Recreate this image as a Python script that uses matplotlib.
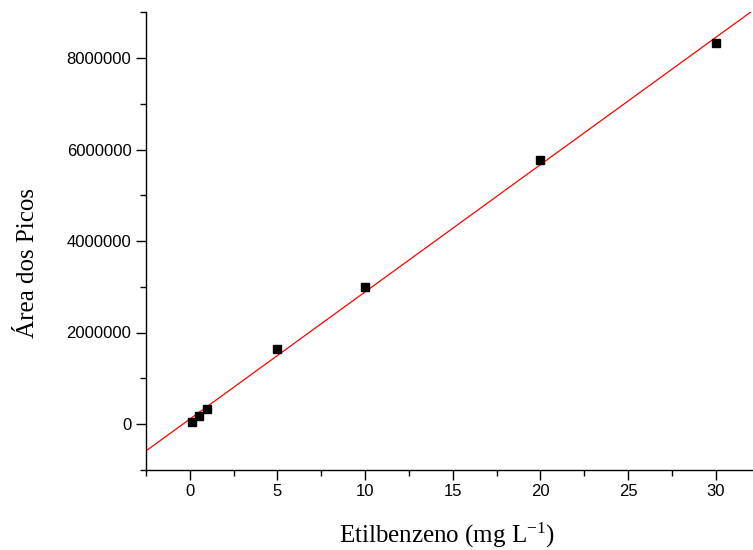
import numpy as np
import matplotlib
matplotlib.use("Agg")
import matplotlib.pyplot as plt
from matplotlib.ticker import MultipleLocator

plt.rcParams['mathtext.fontset'] = 'custom'
plt.rcParams['mathtext.rm'] = 'Liberation Serif'
plt.rcParams['mathtext.it'] = 'Liberation Serif:italic'

conc = [0.1, 0.5, 1, 5, 10, 20, 30]
area = [40000, 170000, 330000, 1630000, 3000000, 5780000, 8320000]

fig = plt.figure(figsize=(7.53, 5.5), dpi=100)
ax = fig.add_axes([146/753, 1 - 469.75/550, 613.6/753, (469.75 - 12.25)/550])

slope, intercept = np.polyfit(conc, area, 1)
xl = np.array([-2.5, 32.5])
ax.plot(xl, slope * xl + intercept, color='red', lw=0.9, zorder=2)
ax.plot(conc, area, 's', color='black', markersize=6, zorder=3)

ax.set_xlim(-2.5, 32.5)
ax.set_ylim(-1000000, 9000000)
ax.xaxis.set_major_locator(MultipleLocator(5))
ax.xaxis.set_minor_locator(MultipleLocator(2.5))
ax.yaxis.set_major_locator(MultipleLocator(2000000))
ax.yaxis.set_minor_locator(MultipleLocator(1000000))
ax.ticklabel_format(style='plain', axis='y', useOffset=False)

for s in ['top', 'right']:
    ax.spines[s].set_visible(False)
for s in ['left', 'bottom']:
    ax.spines[s].set_linewidth(1.0)

ax.tick_params(which='major', direction='out', length=7, width=1.0, labelsize=12)
ax.tick_params(which='minor', direction='out', length=4, width=1.0)
for lab in ax.get_xticklabels() + ax.get_yticklabels():
    lab.set_family('Liberation Sans')

ax.set_xlabel('Etilbenzeno (mg L$^{\\mathrm{-1}}$)', family='Liberation Serif', fontsize=18, labelpad=15.5)
ax.set_ylabel('Área dos Picos', family='Liberation Serif', fontsize=18, labelpad=20)
ax.xaxis.label.set_x(0.4905)
ax.yaxis.label.set_y(0.453)

fig.savefig('out.png', dpi=100)
